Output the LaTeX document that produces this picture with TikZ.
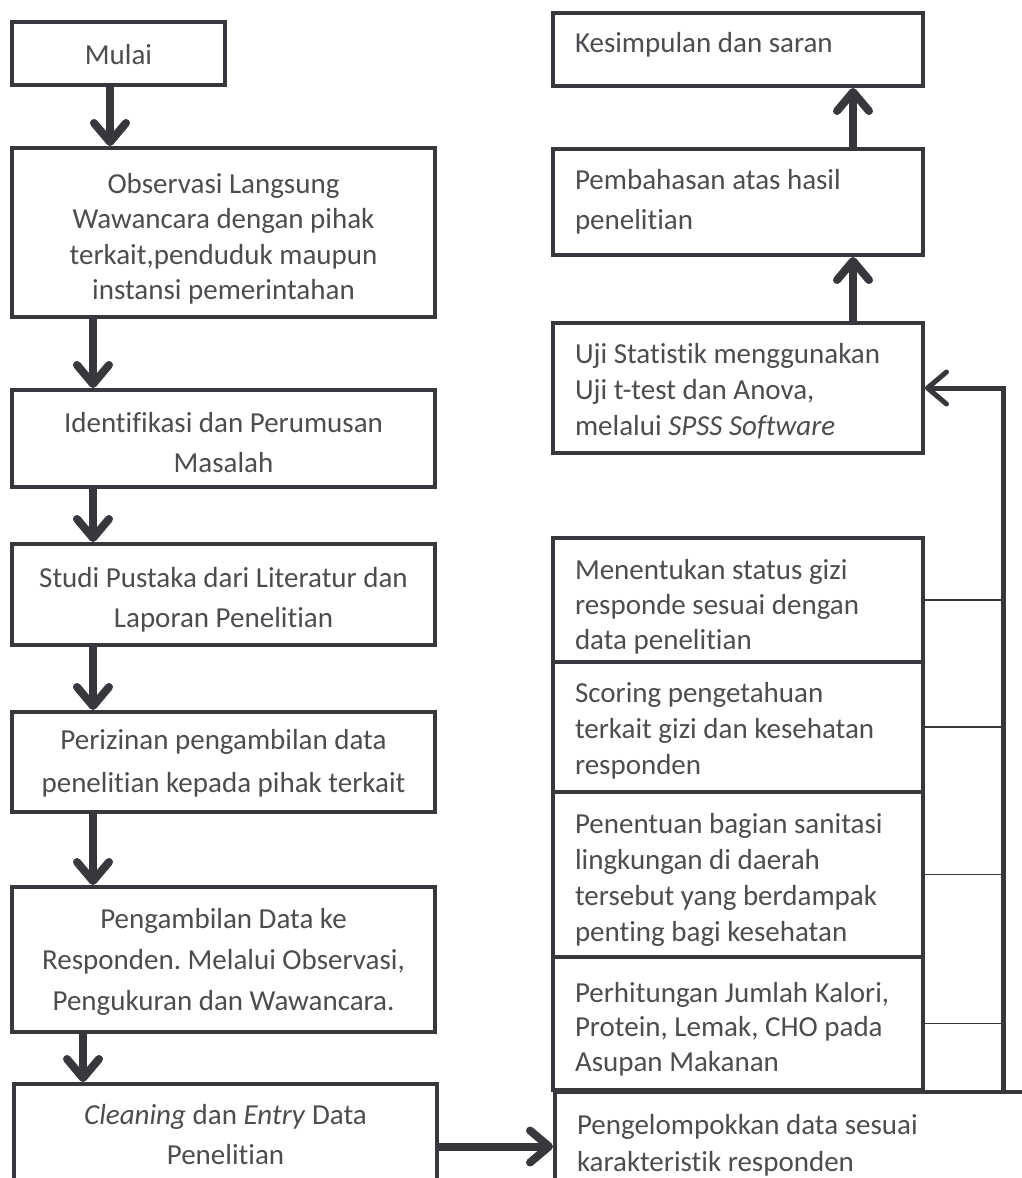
\documentclass[tikz,border=0pt]{standalone}
\usepackage{fontspec}
\setmainfont{Carlito}[Ligatures={NoCommon,NoContextual}]
\usetikzlibrary{arrows.meta}
\definecolor{ln}{RGB}{58,54,62}
\definecolor{tx}{RGB}{78,76,80}
\frenchspacing
\tikzset{
  box/.style={draw=ln, line width=4pt, fill=white, text=tx, inner sep=0pt,
    font=\fontsize{29}{36}\selectfont, text height=21pt},
  lbox/.style={box, minimum width=423pt, text width=403pt, align=flush center},
  rbox/.style={box, minimum width=370pt, text width=326pt, align=flush left},
  arr/.style={draw=ln, line width=8pt, -{Straight Barb[length=19pt,width=32pt,round]}},
  thinline/.style={draw=ln, line width=1.5pt},
}
\begin{document}
\begin{tikzpicture}[x=1pt,y=-1pt]
\useasboundingbox (0,0) rectangle (1022,1178);
% left column
\node[box, minimum width=213pt, minimum height=63pt, text depth=0pt] (mulai) at (118.5,53.5) {Mulai};
\node[lbox, minimum height=169pt, font=\fontsize{29}{35.5}\selectfont, text depth=100pt] (obs) at (223.5,232.5)
  {Observasi Langsung\\Wawancara dengan pihak\\terkait,penduduk maupun\\instansi pemerintahan};
\node[lbox, minimum height=97pt, font=\fontsize{29}{40}\selectfont, text depth=34pt] (ident) at (223.5,438.5)
  {Identifikasi dan Perumusan\\Masalah};
\node[lbox, minimum height=101pt, font=\fontsize{29}{40}\selectfont, text depth=36pt] (studi) at (223.5,594.5)
  {Studi Pustaka dari Literatur dan\\Laporan Penelitian};
\node[lbox, minimum height=100pt, font=\fontsize{29}{43}\selectfont, text depth=47pt] (periz) at (223.5,762)
  {Perizinan pengambilan data\\penelitian kepada pihak terkait};
\node[lbox, minimum height=145pt, font=\fontsize{29}{41}\selectfont, text depth=84pt] (ambil) at (223.5,959.5)
  {Pengambilan Data ke\\Responden. Melalui Observasi,\\Pengukuran dan Wawancara.};
\node[lbox, minimum height=102pt, font=\fontsize{29}{40}\selectfont, text depth=42pt, anchor=north west] (clean) at (12,1082)
  {\textit{Cleaning} dan \textit{Entry} Data\\Penelitian};
% right column
\node[rbox, minimum height=73pt, text depth=15pt] (kes) at (738,49.5) {Kesimpulan dan saran};
\node[rbox, minimum height=106pt, font=\fontsize{29}{40}\selectfont, text depth=46pt] (pemb) at (738,202)
  {Pembahasan atas hasil\\penelitian};
\node[rbox, minimum height=130pt, text depth=71pt] (uji) at (738,388)
  {Uji Statistik menggunakan\\Uji t-test dan Anova,\\melalui \textit{SPSS Software}};
\node[rbox, minimum height=124pt, font=\fontsize{29}{35}\selectfont, text depth=62pt] (tentu) at (738,600)
  {Menentukan status gizi\\responde sesuai dengan\\data penelitian};
\node[rbox, minimum height=130pt, text depth=71pt] (score) at (738,727)
  {Scoring pengetahuan\\terkait gizi dan kesehatan\\responden};
\node[rbox, minimum height=165pt, text depth=104pt] (sanit) at (738,874.5)
  {Penentuan bagian sanitasi\\lingkungan di daerah\\tersebut yang berdampak\\penting bagi kesehatan};
\node[rbox, minimum height=133pt, font=\fontsize{29}{34.5}\selectfont, text depth=64pt] (hitung) at (738,1023.5)
  {Perhitungan Jumlah Kalori,\\Protein, Lemak, CHO pada\\Asupan Makanan};
\node[box, minimum width=482pt, text width=438pt, align=flush left, minimum height=103pt,
  font=\fontsize{29}{37}\selectfont, text depth=39pt, anchor=north west] (kelompok) at (553,1090)
  {Pengelompokkan data sesuai\\karakteristik responden};
% left arrows
\draw[arr] ([xshift=-8.5pt]mulai.south) -- ([xshift=-8.5pt]mulai.south |- obs.north);
\draw[arr] ([xshift=-130.5pt]obs.south) -- ([xshift=-130.5pt]obs.south |- ident.north);
\draw[arr] ([xshift=-130.5pt]ident.south) -- ([xshift=-130.5pt]ident.south |- studi.north);
\draw[arr] ([xshift=-130.5pt]studi.south) -- ([xshift=-130.5pt]studi.south |- periz.north);
\draw[arr] ([xshift=-130.5pt]periz.south) -- ([xshift=-130.5pt]periz.south |- ambil.north);
\draw[arr] ([xshift=-140.5pt]ambil.south) -- ([xshift=-140.5pt]ambil.south |- clean.north);
% right arrows
\draw[arr] ([xshift=115pt]uji.north) -- ([xshift=115pt]uji.north |- pemb.south);
\draw[arr] ([xshift=115pt]pemb.north) -- ([xshift=115pt]pemb.north |- kes.south);
% to grouping
\draw[arr] ([yshift=-3pt]clean.east |- kelompok.west) -- ([yshift=-3pt]kelompok.west);
% feedback
\coordinate (fb) at (1003,1090);
\draw[thinline] (tentu.east) -- (tentu.east -| fb);
\draw[thinline] (score.east) -- (score.east -| fb);
\draw[thinline] (sanit.east) -- (sanit.east -| fb);
\draw[thinline] (hitung.east) -- (hitung.east -| fb);
\draw[arr, line width=5pt] (fb) |- (uji.east);
\end{tikzpicture}
\end{document}
